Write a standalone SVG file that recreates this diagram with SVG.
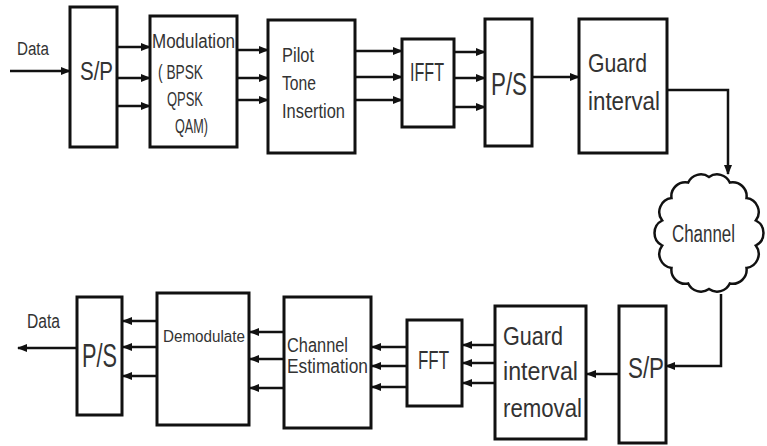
<svg xmlns="http://www.w3.org/2000/svg" width="767" height="446" viewBox="0 0 767 446">
<defs>
<marker id="ah" markerUnits="userSpaceOnUse" markerWidth="10" markerHeight="10" viewBox="0 0 10 10" refX="9" refY="5" orient="auto">
<path d="M0,1 L10,5 L0,9 Z" fill="#111"/>
</marker>
</defs>
<style>
rect{fill:#fff;stroke:#111;stroke-width:3}
text{font-family:"Liberation Sans Narrow","Liberation Sans",sans-serif;fill:#333}
.c line,.c path{stroke:#111;stroke-width:2.5;fill:none;marker-end:url(#ah)}
.cl{fill:#fff;stroke:#111;stroke-width:2.5}
</style>
<rect x="0" y="0" width="767" height="446" style="stroke:none;fill:#fff"/>
<g class="c" id="connectors">
<line x1="10" y1="71" x2="70" y2="71"/>
<line x1="117" y1="47" x2="150" y2="47"/>
<line x1="117" y1="78" x2="150" y2="78"/>
<line x1="117" y1="106" x2="150" y2="106"/>
<line x1="237" y1="50" x2="268" y2="50"/>
<line x1="237" y1="78" x2="268" y2="78"/>
<line x1="237" y1="100" x2="268" y2="100"/>
<line x1="355" y1="51" x2="402" y2="51"/>
<line x1="355" y1="77" x2="402" y2="77"/>
<line x1="355" y1="100" x2="402" y2="100"/>
<line x1="454" y1="52" x2="485" y2="52"/>
<line x1="454" y1="78" x2="485" y2="78"/>
<line x1="454" y1="107" x2="485" y2="107"/>
<line x1="532" y1="77" x2="579" y2="77"/>
<path d="M667,90 H728 V174"/>
<path d="M721,294 V366 H666"/>
<line x1="619" y1="374" x2="587" y2="374"/>
<line x1="495" y1="345" x2="463" y2="345"/>
<line x1="495" y1="363" x2="463" y2="363"/>
<line x1="495" y1="383" x2="463" y2="383"/>
<line x1="407" y1="347" x2="372" y2="347"/>
<line x1="407" y1="366" x2="372" y2="366"/>
<line x1="407" y1="387" x2="372" y2="387"/>
<line x1="284" y1="332" x2="250" y2="332"/>
<line x1="284" y1="359" x2="250" y2="359"/>
<line x1="284" y1="388" x2="250" y2="388"/>
<line x1="157" y1="321" x2="123" y2="321"/>
<line x1="157" y1="347" x2="123" y2="347"/>
<line x1="157" y1="376" x2="123" y2="376"/>
<line x1="77" y1="348" x2="18" y2="348"/>
</g>
<g id="data-in"><text x="17" y="55" font-size="18" textLength="32" lengthAdjust="spacingAndGlyphs">Data</text></g>
<g id="sp-top"><rect x="70" y="7" width="47" height="140"/><text x="80" y="80" font-size="25" textLength="33" lengthAdjust="spacingAndGlyphs">S/P</text></g>
<g id="modulation"><rect x="150" y="16" width="87" height="131"/>
<text x="152" y="48" font-size="20" textLength="83" lengthAdjust="spacingAndGlyphs">Modulation</text>
<text x="158" y="79" font-size="20" textLength="45" lengthAdjust="spacingAndGlyphs">( BPSK</text>
<text x="167" y="106" font-size="20" textLength="36" lengthAdjust="spacingAndGlyphs">QPSK</text>
<text x="175" y="133" font-size="20" textLength="33" lengthAdjust="spacingAndGlyphs">QAM)</text></g>
<g id="pilot"><rect x="268" y="20" width="87" height="133"/>
<text x="282" y="62" font-size="20" textLength="32" lengthAdjust="spacingAndGlyphs">Pilot</text>
<text x="282" y="90" font-size="20" textLength="34" lengthAdjust="spacingAndGlyphs">Tone</text>
<text x="282" y="118" font-size="20" textLength="63" lengthAdjust="spacingAndGlyphs">Insertion</text></g>
<g id="ifft"><rect x="402" y="39" width="52" height="88"/><text x="410" y="81" font-size="26" textLength="34" lengthAdjust="spacingAndGlyphs">IFFT</text></g>
<g id="ps-top"><rect x="485" y="19" width="47" height="127"/><text x="491" y="95" font-size="31" textLength="36" lengthAdjust="spacingAndGlyphs">P/S</text></g>
<g id="guard"><rect x="579" y="19" width="88" height="134"/>
<text x="588" y="72" font-size="26" textLength="59" lengthAdjust="spacingAndGlyphs">Guard</text>
<text x="588" y="110" font-size="26" textLength="72" lengthAdjust="spacingAndGlyphs">interval</text></g>
<g id="channel">
<path class="cl" d="M709,177 A14,14 0 0 1 729.8,182.5 A14,14 0 0 1 746.5,198.1 A14,14 0 0 1 755.8,220.5 A14,14 0 0 1 755.8,245.5 A14,14 0 0 1 746.5,267.9 A14,14 0 0 1 729.8,283.5 A14,14 0 0 1 709,289 A14,14 0 0 1 688.2,283.5 A14,14 0 0 1 671.5,267.9 A14,14 0 0 1 662.2,245.5 A14,14 0 0 1 662.2,220.5 A14,14 0 0 1 671.5,198.1 A14,14 0 0 1 688.2,182.5 A14,14 0 0 1 709,177 Z"/>
<text x="672" y="242" font-size="23" textLength="63" lengthAdjust="spacingAndGlyphs">Channel</text></g>
<g id="sp-bottom"><rect x="619" y="306" width="47" height="137"/><text x="628" y="378" font-size="29" textLength="36" lengthAdjust="spacingAndGlyphs">S/P</text></g>
<g id="guard-removal"><rect x="495" y="306" width="91" height="133"/>
<text x="503" y="345" font-size="25" textLength="60" lengthAdjust="spacingAndGlyphs">Guard</text>
<text x="503" y="380" font-size="25" textLength="75" lengthAdjust="spacingAndGlyphs">interval</text>
<text x="503" y="417" font-size="25" textLength="79" lengthAdjust="spacingAndGlyphs">removal</text></g>
<g id="fft"><rect x="407" y="320" width="55" height="86"/><text x="418" y="369" font-size="26" textLength="31" lengthAdjust="spacingAndGlyphs">FFT</text></g>
<g id="channel-estimation"><rect x="284" y="297" width="87" height="131"/>
<text x="287" y="352" font-size="20" textLength="61" lengthAdjust="spacingAndGlyphs">Channel</text>
<text x="287" y="373" font-size="20" textLength="81" lengthAdjust="spacingAndGlyphs">Estimation</text></g>
<g id="demodulate"><rect x="157" y="293" width="92" height="132"/>
<text x="163" y="342" font-size="16" textLength="82" lengthAdjust="spacingAndGlyphs">Demodulate</text></g>
<g id="ps-bottom"><rect x="77" y="297" width="45" height="118"/><text x="82" y="367" font-size="34" textLength="35" lengthAdjust="spacingAndGlyphs">P/S</text></g>
<g id="data-out"><text x="27" y="328" font-size="20" textLength="33" lengthAdjust="spacingAndGlyphs">Data</text></g>
</svg>
